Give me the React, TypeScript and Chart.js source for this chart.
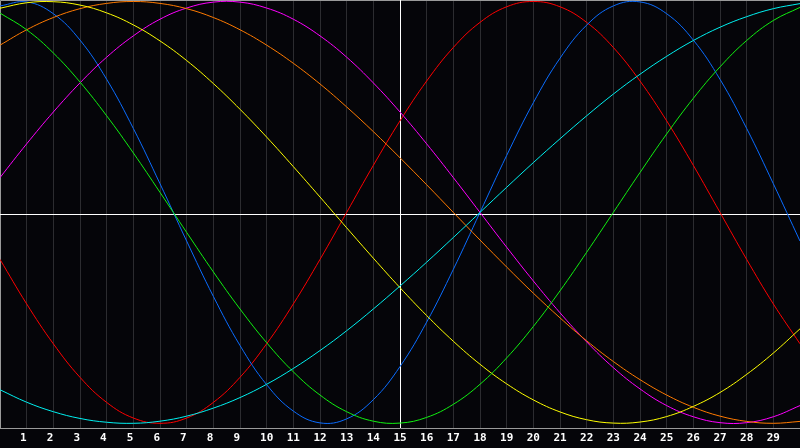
import { useEffect, useRef } from "react";
import { Chart, registerables } from "chart.js";

Chart.register(...registerables);

const xValues = [0,1,2,3,4,5,6,7,8,9,10,11,12,13,14,15,16,17,18,19,20,21,22,23,24,25,26,27,28,29,30];
const tickLabels = ["", "1 ", "2 ", "3 ", "4 ", "5 ", "6 ", "7 ", "8 ", "9 ", "10", "11", "12", "13", "14", "15", "16", "17", "18", "19", "20", "21", "22", "23", "24", "25", "26", "27", "28", "29", ""];

const redSeries = [-0.223,-0.434,-0.623,-0.782,-0.901,-0.975,-1,-0.975,-0.901,-0.782,-0.623,-0.434,-0.223,0,0.223,0.434,0.623,0.782,0.901,0.975,1,0.975,0.901,0.782,0.623,0.434,0.223,0,-0.223,-0.434,-0.623];
const blueSeries = [0.979,0.998,0.942,0.817,0.631,0.398,0.136,-0.136,-0.398,-0.631,-0.817,-0.942,-0.998,-0.979,-0.888,-0.731,-0.52,-0.27,0,0.27,0.52,0.731,0.888,0.979,0.998,0.942,0.817,0.631,0.398,0.136,-0.136];
const cyanSeries = [-0.841,-0.9,-0.945,-0.977,-0.995,-1,-0.99,-0.966,-0.928,-0.878,-0.815,-0.74,-0.655,-0.561,-0.458,-0.349,-0.236,-0.119,0,0.119,0.236,0.349,0.458,0.561,0.655,0.74,0.815,0.878,0.928,0.966,0.99];
const greenSeries = [0.945,0.866,0.756,0.618,0.458,0.282,0.095,-0.095,-0.282,-0.458,-0.618,-0.756,-0.866,-0.945,-0.99,-0.999,-0.972,-0.91,-0.815,-0.69,-0.541,-0.372,-0.189,0,0.189,0.372,0.541,0.69,0.815,0.91,0.972];
const yellowSeries = [0.968,0.994,0.999,0.983,0.946,0.889,0.813,0.72,0.611,0.489,0.357,0.217,0.073,-0.073,-0.217,-0.357,-0.489,-0.611,-0.72,-0.813,-0.889,-0.946,-0.983,-0.999,-0.994,-0.968,-0.92,-0.854,-0.768,-0.667,-0.552];
const orangeSeries = [0.793,0.866,0.924,0.966,0.991,1,0.991,0.966,0.924,0.866,0.793,0.707,0.609,0.5,0.383,0.259,0.131,0,-0.131,-0.259,-0.383,-0.5,-0.609,-0.707,-0.793,-0.866,-0.924,-0.966,-0.991,-1,-0.991];
const magentaSeries = [0.165,0.325,0.476,0.614,0.736,0.837,0.916,0.969,0.997,0.997,0.969,0.916,0.837,0.736,0.614,0.476,0.325,0.165,0,-0.165,-0.325,-0.476,-0.614,-0.736,-0.837,-0.916,-0.969,-0.997,-0.997,-0.969,-0.916];

const seriesList = [
  { data: cyanSeries, color: "#00f0f0" },
  { data: greenSeries, color: "#10f010" },
  { data: yellowSeries, color: "#ffff00" },
  { data: orangeSeries, color: "#ff7a00" },
  { data: magentaSeries, color: "#ff00ff" },
  { data: blueSeries, color: "#0a6cff" },
  { data: redSeries, color: "#ff0000" },
];

const crossX = 15;
const yMin = -1.0223;
const yMax = 1.0071;

const framePlugin = {
  id: "frame",
  beforeDraw(chart: any) {
    const c = chart.ctx;
    c.save();
    c.fillStyle = "#050509";
    c.fillRect(0, 0, chart.width, chart.height);
    c.restore();
  },
  beforeDatasetsDraw(chart: any) {
    const c = chart.ctx;
    const a = chart.chartArea;
    const xs = chart.scales.x;
    c.save();
    c.strokeStyle = "#9a9a9a";
    c.lineWidth = 1;
    c.beginPath();
    c.moveTo(a.left + 0.5, a.bottom);
    c.lineTo(a.left + 0.5, a.top + 0.5);
    c.lineTo(a.right, a.top + 0.5);
    c.stroke();
    c.strokeStyle = "#ffffff";
    const px = Math.round(xs.getPixelForValue(crossX)) + 0.5;
    const py = Math.round((a.top + a.bottom) / 2) + 0.5;
    c.beginPath();
    c.moveTo(px, a.top);
    c.lineTo(px, a.bottom);
    c.moveTo(a.left, py);
    c.lineTo(a.right, py);
    c.stroke();
    c.restore();
  },
};

export default function App() {
  const ref = useRef<HTMLCanvasElement | null>(null);
  useEffect(() => {
    document.body.style.margin = "0";
    if (!ref.current) return;
    const chart = new Chart(ref.current, {
      type: "line",
      data: {
        datasets: seriesList.map((s) => ({
          data: xValues.map((x, i) => ({ x, y: s.data[i] })),
          borderColor: s.color,
          borderWidth: 1,
          pointRadius: 0,
          pointHoverRadius: 0,
          tension: 0.4,
          fill: false,
        })),
      },
      options: {
        animation: false,
        responsive: false,
        events: [],
        layout: { padding: 0, autoPadding: false },
        plugins: { legend: { display: false }, tooltip: { enabled: false } },
        scales: {
          x: {
            type: "linear",
            min: 0,
            max: 30,
            afterFit: (s: any) => {
              s.height = 20;
              s.paddingLeft = 0;
              s.paddingRight = 0;
            },
            afterBuildTicks: (s: any) => {
              s.ticks = xValues.map((v) => ({ value: v }));
            },
            ticks: {
              autoSkip: false,
              maxRotation: 0,
              padding: 4,
              color: "#ffffff",
              font: { family: "DejaVu Sans Mono", size: 11, weight: "bold" },
              callback: (v: any) => tickLabels[Number(v)] ?? "",
            },
            grid: { color: "#2c2c30", lineWidth: 1, drawTicks: false },
            border: { display: true, color: "#9a9a9a" },
          },
          y: {
            display: false,
            min: yMin,
            max: yMax,
          },
        },
      },
      plugins: [framePlugin],
    });
    return () => chart.destroy();
  }, []);
  return (
    <div style={{ width: 800, height: 448, position: "relative" }}>
      <canvas ref={ref} width={800} height={448} style={{ display: "block" }} />
    </div>
  );
}
